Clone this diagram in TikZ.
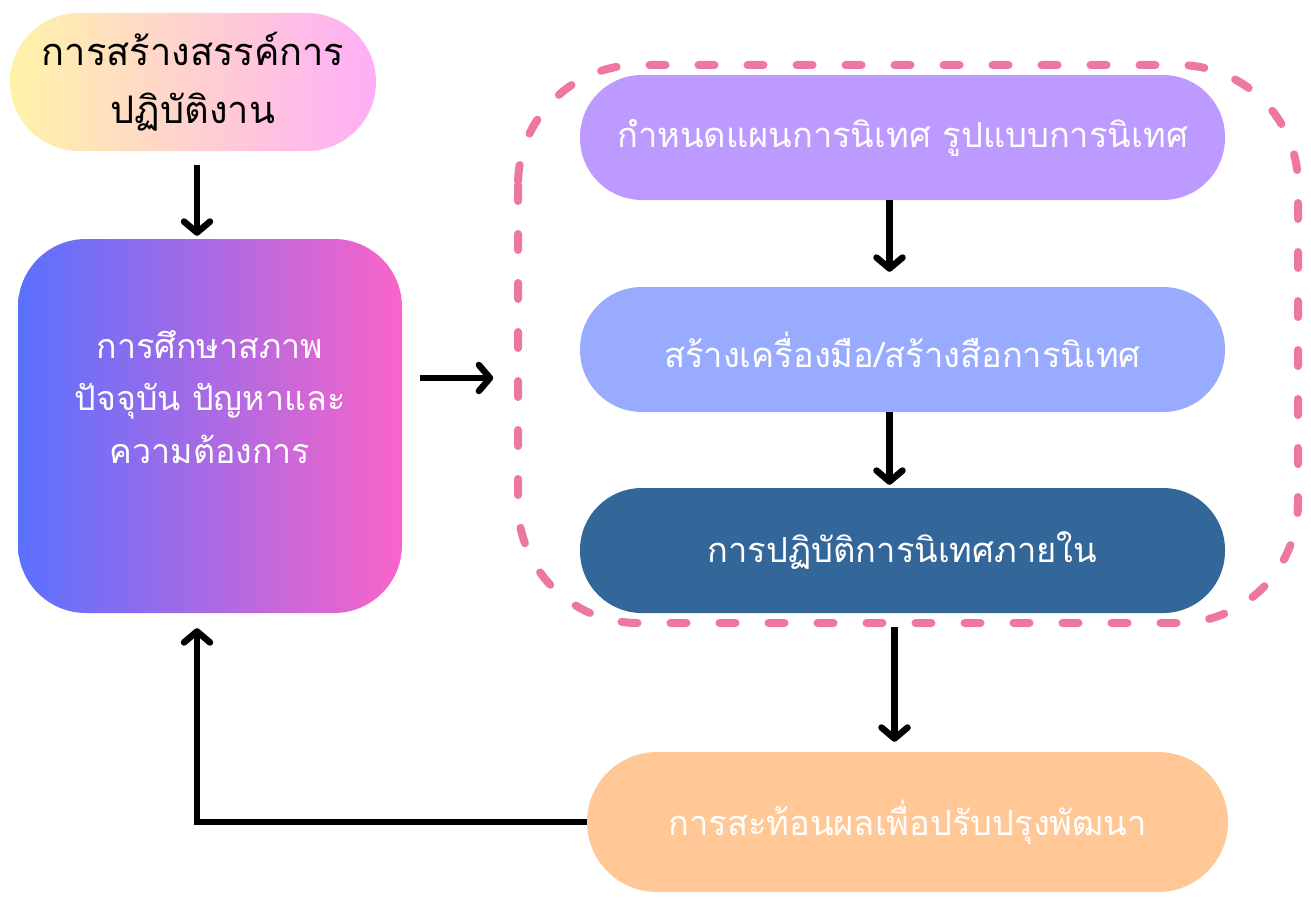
\documentclass[tikz,border=0pt]{standalone}
\usepackage{fontspec}
\newfontfamily\thai[Script=Thai]{Loma}
\usetikzlibrary{arrows.meta,calc}
\definecolor{ylw}{HTML}{FFF3A8}
\definecolor{pnk}{HTML}{FFAEF7}
\definecolor{blu}{HTML}{5A70FF}
\definecolor{mag}{HTML}{FA64C8}
\definecolor{prp}{HTML}{BC9AFF}
\definecolor{lbl}{HTML}{99ABFF}
\definecolor{dbl}{HTML}{336699}
\definecolor{org}{HTML}{FFC896}
\definecolor{dsh}{HTML}{EE77A0}
\tikzset{
  pill/.style={rectangle, rounded corners=62pt, minimum width=645pt, minimum height=125pt,
    text=white, font=\thai\fontsize{34.5}{40}\selectfont, inner sep=0pt},
  arr/.style={line width=6.5pt, -{Straight Barb[round, length=11pt, width=26pt]}},
  dashbox/.style={draw=dsh, line width=8pt, line cap=round, dash pattern=on 16pt off 33pt, rounded corners=120pt}
}
\begin{document}
\begin{tikzpicture}[x=1pt,y=-1pt]
\useasboundingbox (0,0) rectangle (1311,899);
\fill[white] (0,0) rectangle (1311,899);
% dashed container
\draw[dashbox] (518,65) rectangle (1298,623);
% nodes
\node[rectangle, rounded corners=69pt, minimum width=366pt, minimum height=138pt, inner sep=0pt,
  left color=ylw, right color=pnk, align=center, font=\thai\fontsize{38}{58}\selectfont]
  (top) at (193,82) {การสร้างสรรค์การ\\ปฏิบัติงาน};
\node[rectangle, rounded corners=68pt, minimum width=384pt, minimum height=374pt, inner sep=0pt,
  left color=blu, right color=mag, text=white, align=center, text depth=58pt,
  font=\thai\fontsize{34}{52.5}\selectfont]
  (study) at (210,426) {การศึกษาสภาพ\\ปัจจุบัน ปัญหาและ\\ความต้องการ};
\node[pill, fill=prp] (plan) at (902.5,137.5) {กำหนดแผนการนิเทศ รูปแบบการนิเทศ};
\node[pill, fill=lbl] (tool) at (902.5,349.5) {สร้างเครื่องมือ/สร้างสือการนิเทศ};
\node[pill, fill=dbl] (act) at (902.5,550.5) {การปฏิบัติการนิเทศภายใน};
\node[pill, fill=org, minimum width=641pt, minimum height=140pt, rounded corners=70pt] (refl) at (907.5,822) {การสะท้อนผลเพื่อปรับปรุงพัฒนา};
% arrows
\draw[arr] ($(top.south)+(4,14)$) -- ($(study.north)+(-13,-3)$);
\draw[arr] ($(study.east)+(18,-48)$) -- ($(study.east)+(91,-48)$);
\draw[arr] ($(plan.south)+(-13,0)$) -- ($(tool.north)+(-13,-15)$);
\draw[arr] ($(tool.south)+(-13,0)$) -- ($(act.north)+(-13,-3)$);
\draw[arr] ($(act.south)+(-8,14)$) -- ($(refl.north)+(-13,-10)$);
\draw[arr] (refl.west) -| ($(study.south)+(-13,15)$);
\end{tikzpicture}
\end{document}
